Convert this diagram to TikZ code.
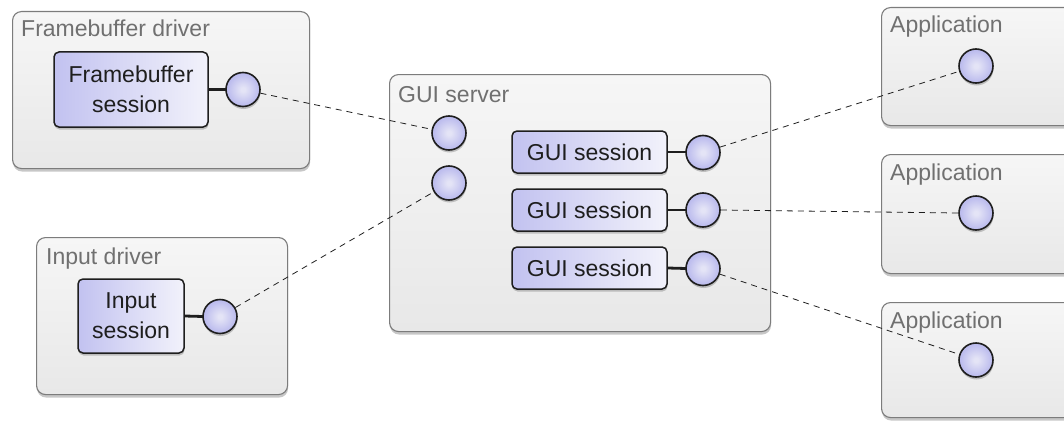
\documentclass[tikz,border=0pt]{standalone}
\usepackage{fontspec}
\setmainfont{Liberation Sans}
\usetikzlibrary{shadows}
\definecolor{boxborder}{HTML}{7C7C7C}
\definecolor{boxtop}{HTML}{F6F6F6}
\definecolor{boxbot}{HTML}{E8E8E8}
\definecolor{lblgray}{HTML}{707070}
\definecolor{sessleft}{HTML}{C2C2F0}
\definecolor{sessright}{HTML}{F2F2FB}
\definecolor{knobin}{HTML}{E4E4F6}
\definecolor{knobmid}{HTML}{BEBEEE}
\definecolor{knobout}{HTML}{9E9EE2}
\definecolor{ink}{HTML}{1E1E1E}
\pgfdeclareradialshading{knob}{\pgfpoint{0bp}{0bp}}{color(0bp)=(knobin); color(3bp)=(knobin); color(22bp)=(knobmid); color(50bp)=(knobout)}
\tikzset{
  container/.style={draw=boxborder, line width=1.1pt, rounded corners=9pt, top color=boxtop, bottom color=boxbot,
    anchor=north west, inner sep=0pt,
    drop shadow={shadow xshift=0.5pt, shadow yshift=-3pt, opacity=0.22, fill=black}},
  lbl/.style={anchor=base west, text=lblgray, inner sep=0pt, font=\fontsize{23}{30}\selectfont},
  session/.style={draw=ink, line width=1.5pt, rounded corners=5pt, left color=sessleft, right color=sessright,
    inner sep=0pt, align=center, text=ink, font=\fontsize{23}{30}\selectfont,
    drop shadow={shadow xshift=0.5pt, shadow yshift=-2.5pt, opacity=0.2, fill=black}},
  port/.style={circle, draw=ink, line width=1.6pt, shading=knob, minimum size=34pt, inner sep=0pt,
    drop shadow={shadow xshift=0.5pt, shadow yshift=-2.5pt, opacity=0.2, fill=black}},
  plug/.style={draw=ink, line width=2.8pt},
  link/.style={draw=ink, line width=0.8pt, dash pattern=on 6pt off 5pt}
}
\begin{document}
\begin{tikzpicture}[x=1pt,y=-1pt]
\useasboundingbox (0,0) rectangle (1064,420);
% containers
\node[container, minimum width=297pt, minimum height=157pt] (fbd) at (12,11) {};
\node[lbl] (fbdl) at (21,37) {Framebuffer driver};
\node[container, minimum width=251pt, minimum height=157pt] (ind) at (36,237) {};
\node[lbl] (indl) at (46,264) {Input driver};
\node[container, minimum width=381pt, minimum height=257pt] (gui) at (389,74) {};
\node[lbl] (guil) at (398,102) {GUI server};
\node[container, minimum width=200pt, minimum height=118pt] (app1) at (881,7) {};
\node[lbl] (app1l) at (890,33) {Application};
\node[container, minimum width=200pt, minimum height=119pt] (app2) at (881,154) {};
\node[lbl] (app2l) at (890,180) {Application};
\node[container, minimum width=200pt, minimum height=115pt] (app3) at (881,302) {};
\node[lbl] (app3l) at (890,328) {Application};
% sessions
\node[session, minimum width=154pt, minimum height=75pt] (fbs) at (131,89.5) {Framebuffer\\session};
\node[session, minimum width=106pt, minimum height=74pt] (ins) at (131,316) {Input\\session};
\node[session, minimum width=155pt, minimum height=42pt] (gs1) at (589.5,152) {GUI session};
\node[session, minimum width=155pt, minimum height=42pt] (gs2) at (589.5,210) {GUI session};
\node[session, minimum width=155pt, minimum height=42pt] (gs3) at (589.5,268) {GUI session};
% plugs
\draw[plug] (fbs.east) -- (226,89.5);
\draw[plug] (ins.east) -- (203,316.5);
\draw[plug] (gs1.east) -- (686,152);
\draw[plug] (gs2.east) -- (686,210);
\draw[plug] (gs3.east) -- (686,268.5);
% ports
\node[port] (fbc) at (243,89.5) {};
\node[port] (inc) at (220,316.5) {};
\node[port] (s1) at (449,133) {};
\node[port] (s2) at (449,183) {};
\node[port] (g1) at (703,152.5) {};
\node[port] (g2) at (703,210) {};
\node[port] (g3) at (703,268.5) {};
\node[port] (a1) at (976,66) {};
\node[port] (a2) at (976,213) {};
\node[port] (a3) at (976,360) {};
% links
\draw[link] (fbc) -- (s1);
\draw[link] (inc) -- (s2);
\draw[link] (g1) -- (a1);
\draw[link] (g2.east) -- (a2.west);
\draw[link] (g3) -- (a3);
\end{tikzpicture}
\end{document}
